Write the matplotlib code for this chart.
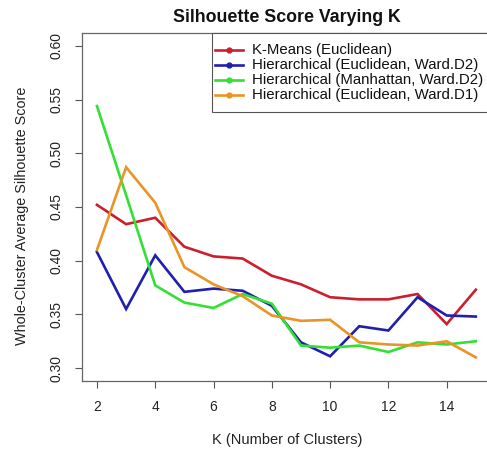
import matplotlib
matplotlib.use("Agg")
import matplotlib.pyplot as plt
from matplotlib.lines import Line2D
from matplotlib.patches import Rectangle

plt.rcParams['font.family'] = ['Liberation Sans', 'DejaVu Sans']

k_values = [2, 3, 4, 5, 6, 7, 8, 9, 10, 11, 12, 13, 14, 15]

kmeans_euclid = [0.452, 0.434, 0.440, 0.413, 0.404, 0.402, 0.386, 0.378, 0.366,
                 0.364, 0.364, 0.369, 0.341, 0.373]
hier_euclid_d2 = [0.408, 0.355, 0.405, 0.371, 0.374, 0.372, 0.358, 0.324, 0.311,
                  0.339, 0.335, 0.366, 0.349, 0.348]
hier_manhattan_d2 = [0.544, 0.461, 0.377, 0.361, 0.356, 0.369, 0.360, 0.321, 0.319,
                     0.321, 0.315, 0.324, 0.322, 0.325]
hier_euclid_d1 = [0.410, 0.487, 0.454, 0.394, 0.378, 0.367, 0.349, 0.344, 0.345,
                  0.324, 0.322, 0.321, 0.325, 0.310]

series_labels = ["K-Means (Euclidean)",
                 "Hierarchical (Euclidean, Ward.D2)",
                 "Hierarchical (Manhattan, Ward.D2)",
                 "Hierarchical (Euclidean, Ward.D1)"]
series_colors = ["#cc1f2e", "#1f1fb0", "#33e033", "#ea9426"]

W, H = 487, 449
fig = plt.figure(figsize=(W / 100, H / 100), dpi=100)


def fx(px):
    return px / W


def fy(py):
    return 1 - py / H


left, right, top, bottom = 81.8, 491.0, 33.0, 381.0
ax = fig.add_axes([fx(left), fy(bottom), (right - left) / W, (bottom - top) / H])

for vals, col in zip([kmeans_euclid, hier_euclid_d2, hier_manhattan_d2, hier_euclid_d1],
                     series_colors):
    ax.plot(k_values, vals, color=col, lw=1.9, solid_joinstyle='miter')

ax.set_xlim(1.48, 15.52)
ax.set_ylim(0.288, 0.612)
ax.set_xticks([2, 4, 6, 8, 10, 12, 14])
ax.set_yticks([0.30, 0.35, 0.40, 0.45, 0.50, 0.55, 0.60])
ax.set_yticklabels([f"{v:.2f}" for v in [0.30, 0.35, 0.40, 0.45, 0.50, 0.55, 0.60]],
                   rotation=90, va='center')
ax.tick_params(direction='out', length=5, width=0.8, color='#555555',
               labelsize=10, labelcolor='#222222')
ax.tick_params(axis='x', pad=9)
ax.tick_params(axis='y', pad=8)
for s in ax.spines.values():
    s.set_color('#666666')
    s.set_linewidth(0.9)

fig.text(fx(0.5 * (173 + 400)), fy(18), "Silhouette Score Varying K",
         ha='center', va='center', fontsize=12.8, fontweight='bold', color='#111111')
fig.text(fx(287), fy(440), "K (Number of Clusters)",
         ha='center', va='center', fontsize=10.5, color='#222222')
fig.text(fx(22), fy(216), "Whole-Cluster Average Silhouette Score",
         ha='center', va='center', rotation=90, fontsize=10.4, color='#222222')

# legend box drawn in figure pixel layout
fig.add_artist(Rectangle((fx(212), fy(112)), (500 - 212) / W, (112 - 33) / H,
                         transform=fig.transFigure, facecolor='white',
                         edgecolor='#555555', lw=0.8, zorder=5))
for i, (label, col) in enumerate(zip(series_labels, series_colors)):
    y = 50 + 15 * i
    fig.add_artist(Line2D([fx(215), fx(243)], [fy(y), fy(y)], transform=fig.transFigure,
                          color=col, lw=1.9, zorder=6))
    fig.add_artist(Line2D([fx(229)], [fy(y)], transform=fig.transFigure, color=col,
                          marker='o', markersize=3.5, lw=0, zorder=6))
    fig.text(fx(252), fy(y), label, ha='left', va='center', fontsize=10.8,
             color='#111111', zorder=7)

fig.savefig("out.png", dpi=100)
